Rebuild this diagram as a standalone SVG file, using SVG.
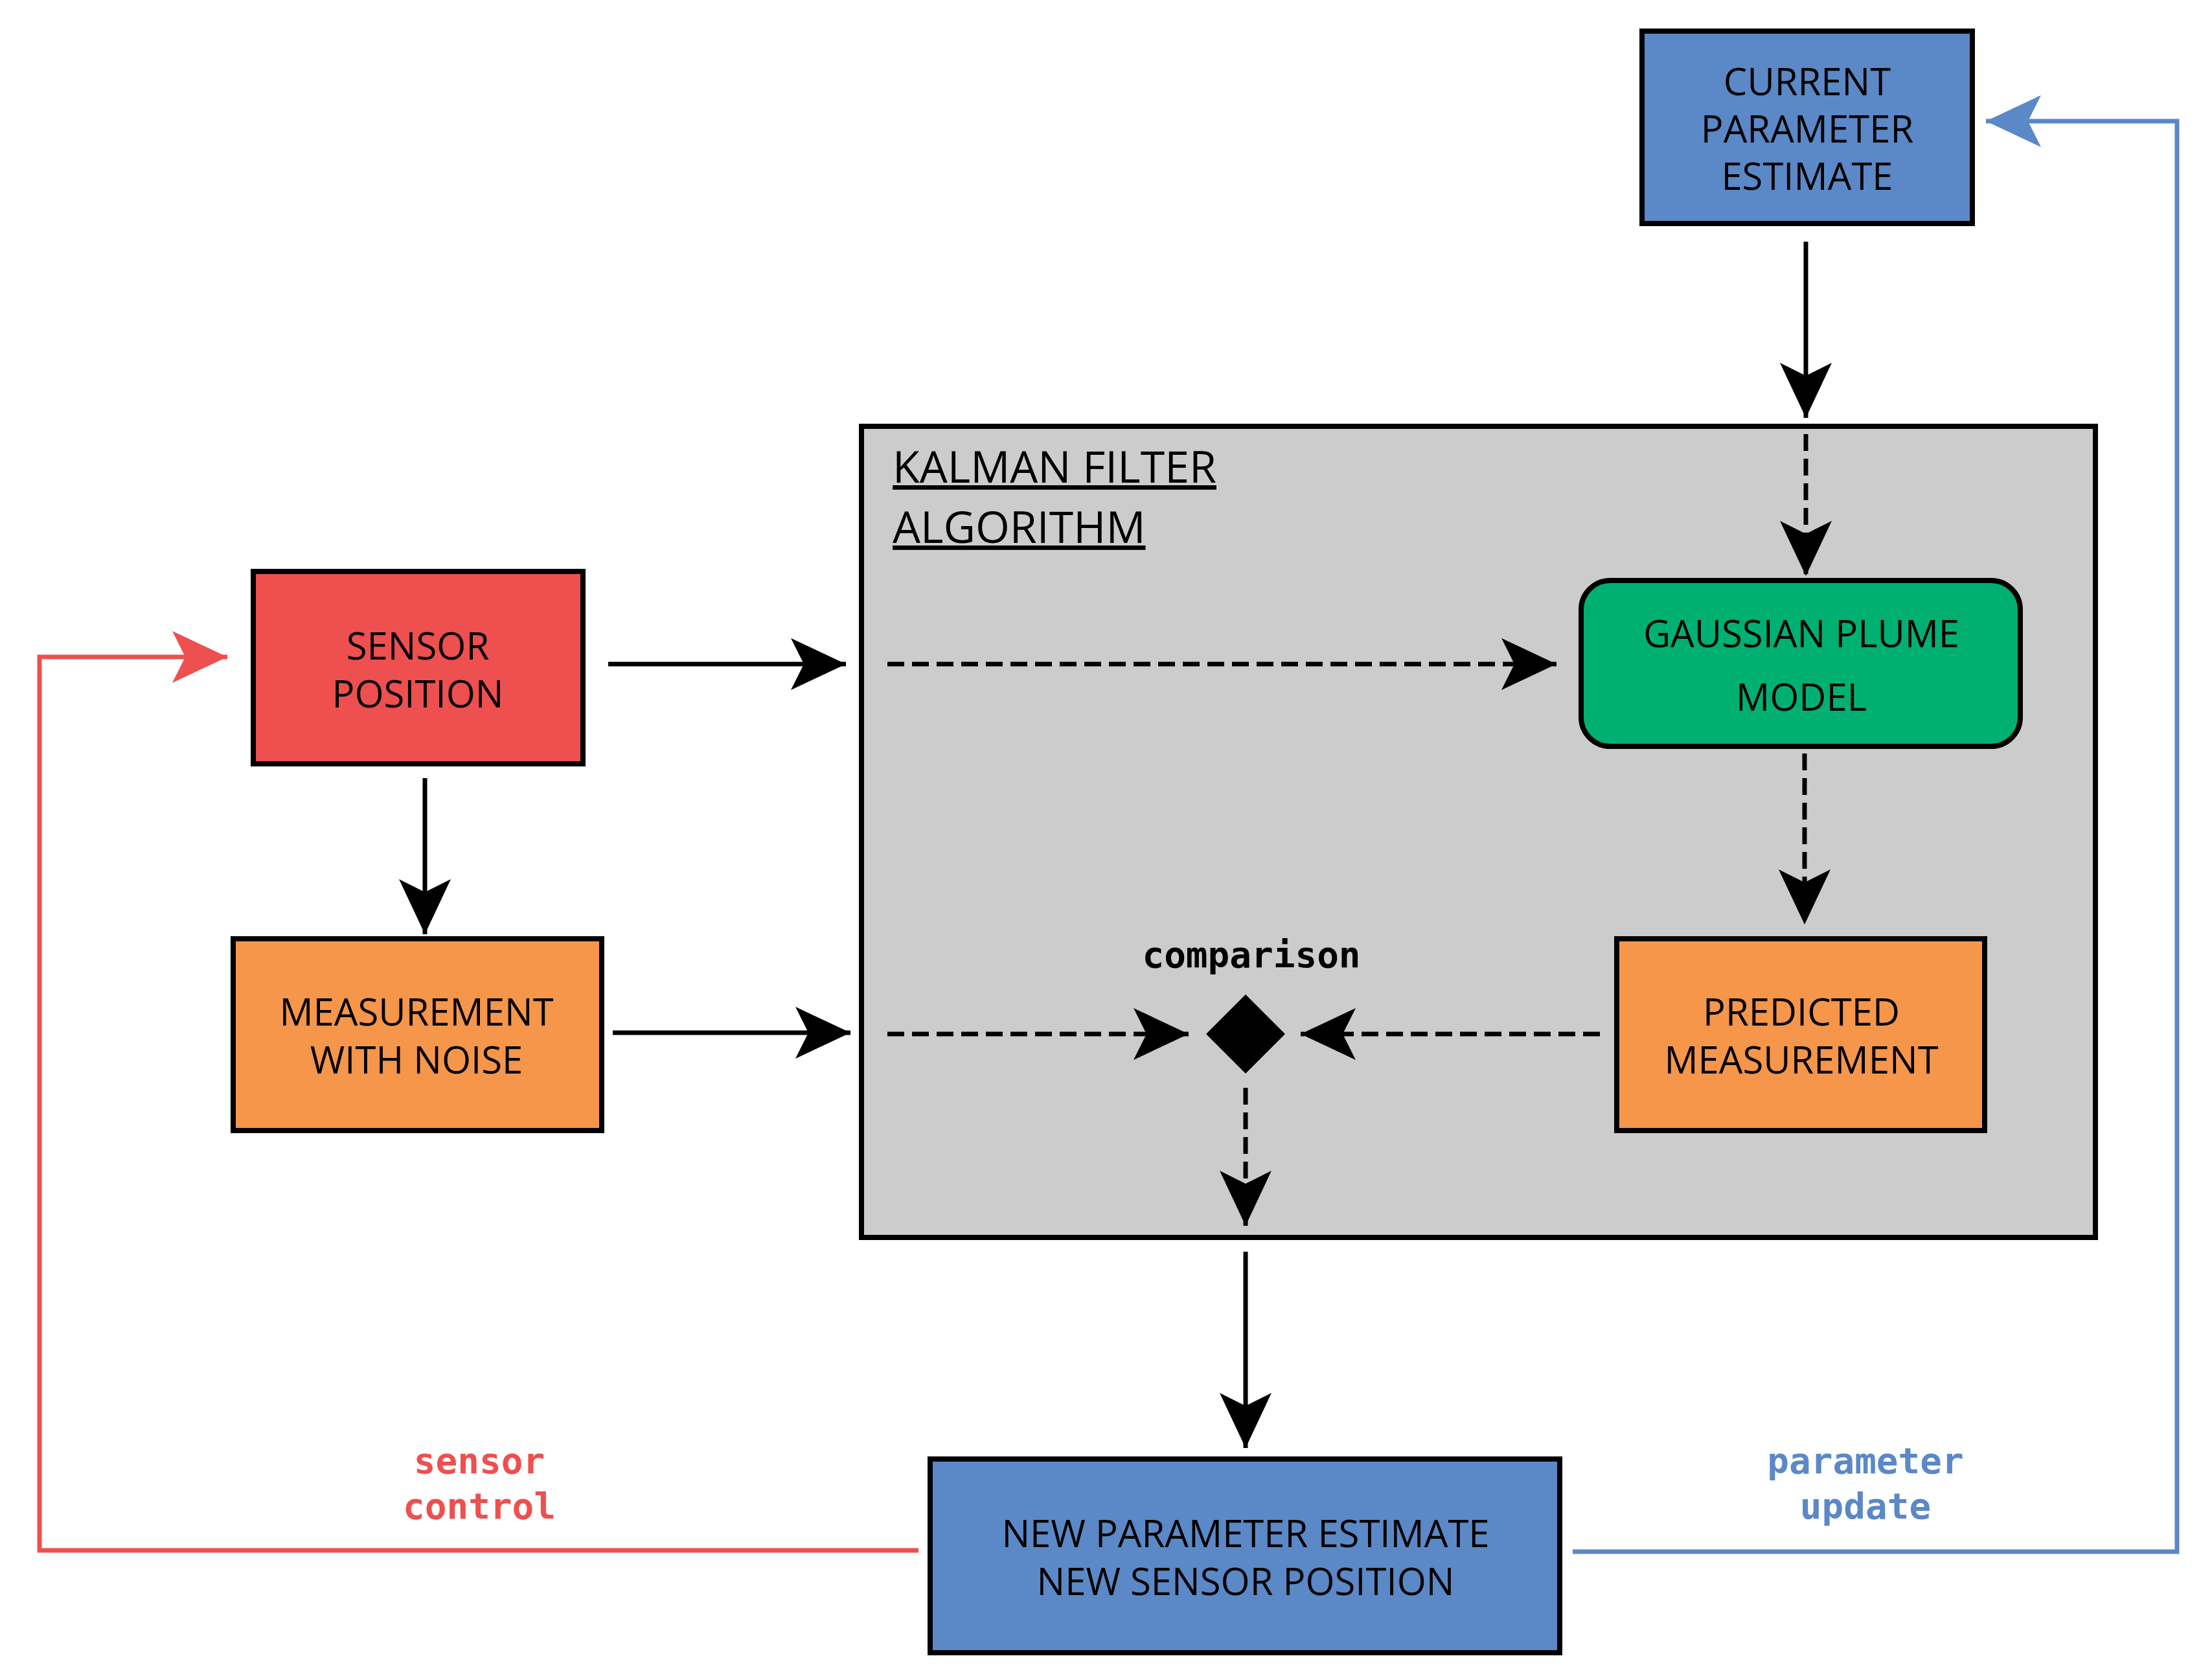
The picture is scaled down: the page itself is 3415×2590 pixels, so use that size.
<svg xmlns="http://www.w3.org/2000/svg" width="3415" height="2590" viewBox="0 0 3415 2590">
<style>
.box{stroke:#000;stroke-width:8}
.t{font-family:"Open Sans","Noto Sans",sans-serif;font-size:58px;text-anchor:middle;fill:#000}
.m{font-family:"DejaVu Sans Mono","Liberation Mono",monospace;font-weight:bold;font-size:56px;text-anchor:middle}
.s{fill:none;stroke:#000;stroke-width:7}
.d{fill:none;stroke:#000;stroke-width:7;stroke-dasharray:26,12}
</style>
<defs>
<marker id="a" markerUnits="userSpaceOnUse" markerWidth="90" markerHeight="90" viewBox="0 0 90 90" refX="85" refY="45" orient="auto"><path d="M0,5 L85,45 L0,85 L20,45 Z" fill="#000"/></marker>
<marker id="r" markerUnits="userSpaceOnUse" markerWidth="90" markerHeight="90" viewBox="0 0 90 90" refX="85" refY="45" orient="auto"><path d="M0,5 L85,45 L0,85 L20,45 Z" fill="#ee4f4f"/></marker>
<marker id="b" markerUnits="userSpaceOnUse" markerWidth="90" markerHeight="90" viewBox="0 0 90 90" refX="85" refY="45" orient="auto"><path d="M0,5 L85,45 L0,85 L20,45 Z" fill="#5b88c6"/></marker>
</defs>
<rect width="3415" height="2590" fill="#fff"/>
<g id="kalman">
<rect class="box" x="1330" y="658" width="1905" height="1252" fill="#cccccc"/>
<text x="1378" y="745" font-family="Open Sans,sans-serif" font-size="68" text-decoration="underline">KALMAN FILTER</text>
<text x="1378" y="838" font-family="Open Sans,sans-serif" font-size="68" text-decoration="underline">ALGORITHM</text>
</g>
<g id="current"><rect class="box" x="2535" y="48" width="510" height="297" fill="#5b88c6"/>
<text class="t" x="2790" y="147">CURRENT</text><text class="t" x="2790" y="220">PARAMETER</text><text class="t" x="2790" y="293">ESTIMATE</text></g>
<g id="sensor"><rect class="box" x="391" y="882" width="509" height="297" fill="#ee4f4f"/>
<text class="t" x="645" y="1018">SENSOR</text><text class="t" x="645" y="1092">POSITION</text></g>
<g id="meas"><rect class="box" x="360" y="1449" width="569" height="296" fill="#f5964a"/>
<text class="t" x="643" y="1583">MEASUREMENT</text><text class="t" x="643" y="1657">WITH NOISE</text></g>
<g id="plume"><rect class="box" x="2441" y="896" width="678" height="256" rx="45" fill="#00b073"/>
<text class="t" x="2781" y="999">GAUSSIAN PLUME</text><text class="t" x="2781" y="1097">MODEL</text></g>
<g id="pred"><rect class="box" x="2496" y="1449" width="568" height="296" fill="#f5964a"/>
<text class="t" x="2781" y="1583">PREDICTED</text><text class="t" x="2781" y="1657">MEASUREMENT</text></g>
<g id="newp"><rect class="box" x="1436" y="2252" width="972" height="299" fill="#5b88c6"/>
<text class="t" x="1923" y="2388">NEW PARAMETER ESTIMATE</text><text class="t" x="1923" y="2462">NEW SENSOR POSITION</text></g>
<g id="comparison"><path d="M1923,1535 L1984,1596 L1923,1657 L1862,1596 Z" fill="#000"/>
<text class="m" x="1932" y="1493">comparison</text></g>
<g id="connectors">
<line class="s" x1="2788" y1="373" x2="2788" y2="645" marker-end="url(#a)"/>
<line class="d" x1="2788" y1="670" x2="2788" y2="889" marker-end="url(#a)"/>
<line class="s" x1="939" y1="1025" x2="1306" y2="1025" marker-end="url(#a)"/>
<line class="d" x1="1370" y1="1025" x2="2403" y2="1025" marker-end="url(#a)"/>
<line class="s" x1="656" y1="1201" x2="656" y2="1442" marker-end="url(#a)"/>
<line class="s" x1="946" y1="1594" x2="1313" y2="1594" marker-end="url(#a)"/>
<line class="d" x1="1370" y1="1596" x2="1835" y2="1596" marker-end="url(#a)"/>
<line class="d" x1="2470" y1="1596" x2="2008" y2="1596" marker-end="url(#a)"/>
<line class="d" x1="2786" y1="1163" x2="2786" y2="1427" marker-end="url(#a)"/>
<line class="d" x1="1923" y1="1679" x2="1923" y2="1892" marker-end="url(#a)"/>
<line class="s" x1="1923" y1="1932" x2="1923" y2="2235" marker-end="url(#a)"/>
<polyline points="1418,2393 61,2393 61,1014 351,1014" fill="none" stroke="#ee4f4f" stroke-width="7" marker-end="url(#r)"/>
<polyline points="2428,2395 3361,2395 3361,187 3066,187" fill="none" stroke="#5b88c6" stroke-width="7" marker-end="url(#b)"/>
<text class="m" x="740" y="2274" fill="#ee4f4f">sensor</text><text class="m" x="740" y="2344" fill="#ee4f4f">control</text>
<text class="m" x="2880" y="2274" fill="#5b88c6">parameter</text><text class="m" x="2880" y="2344" fill="#5b88c6">update</text>
</g>
</svg>
